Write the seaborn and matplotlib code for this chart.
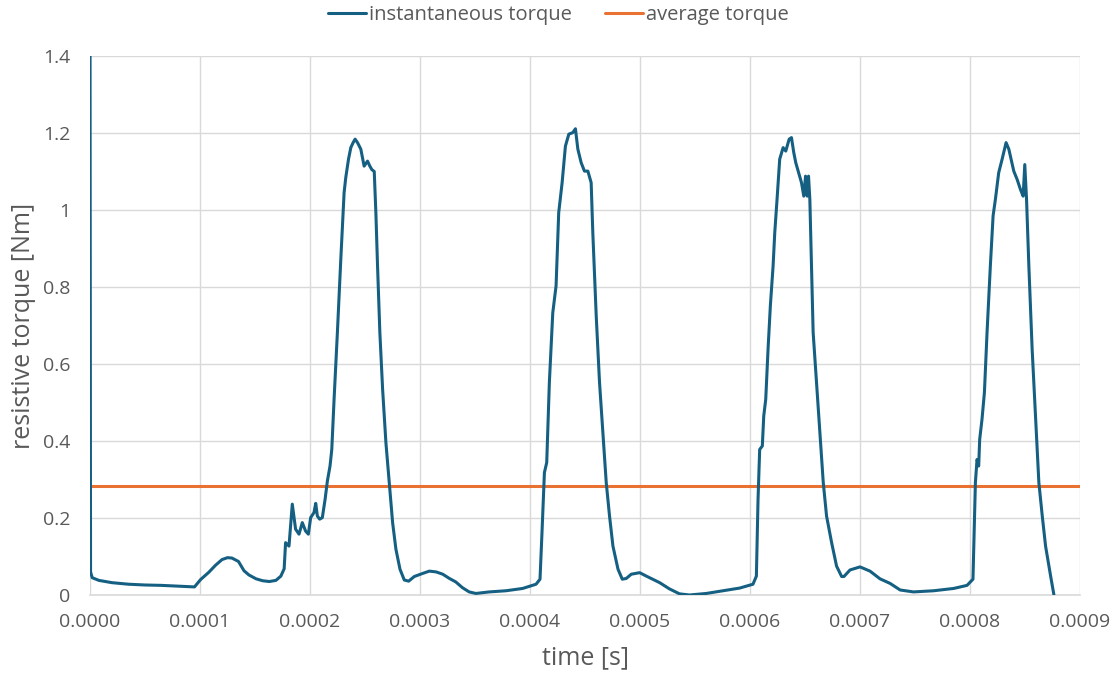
import matplotlib
matplotlib.use("Agg")
import matplotlib.pyplot as plt
from matplotlib.ticker import FixedLocator, FuncFormatter
import seaborn as sns
import pandas as pd

# time samples in units of 1e-4 s
time_e4 = [
    0.0, 0.005, 0.02, 0.08, 0.2, 0.35, 0.5, 0.65, 0.8, 0.95,
    1.005, 1.08, 1.14, 1.2, 1.25, 1.29, 1.35, 1.4, 1.445, 1.51, 1.57, 1.63, 1.69, 1.735, 1.765,
    1.778, 1.809, 1.839, 1.869, 1.9, 1.93, 1.96, 1.985, 2.006, 2.036, 2.052, 2.067, 2.088, 2.112,
    2.137, 2.158, 2.182, 2.198, 2.219, 2.249, 2.28, 2.31, 2.325, 2.35, 2.371, 2.392, 2.41, 2.432,
    2.462, 2.492, 2.523, 2.544, 2.562, 2.584, 2.599, 2.614, 2.635, 2.66, 2.69, 2.72, 2.751, 2.781,
    2.818, 2.857, 2.897, 2.948, 3.024, 3.085, 3.146, 3.207, 3.267, 3.325, 3.386, 3.447, 3.508,
    3.629, 3.781, 3.933, 4.055, 4.091, 4.109, 4.131, 4.152, 4.176, 4.207, 4.237, 4.261, 4.292,
    4.322, 4.353, 4.389, 4.413, 4.435, 4.465, 4.495, 4.526, 4.556, 4.571, 4.602, 4.632, 4.663,
    4.693, 4.723, 4.754, 4.8, 4.839, 4.875, 4.921, 4.997, 5.058, 5.179, 5.267, 5.359, 5.45,
    5.602, 5.754, 5.906, 6.027, 6.058, 6.073, 6.088, 6.112, 6.125, 6.143, 6.164, 6.185, 6.21,
    6.225, 6.246, 6.27, 6.301, 6.325, 6.356, 6.377, 6.398, 6.416, 6.438, 6.468, 6.489, 6.505,
    6.52, 6.532, 6.544, 6.559, 6.574, 6.605, 6.635, 6.666, 6.696, 6.742, 6.787, 6.833, 6.854,
    6.909, 7.0, 7.091, 7.182, 7.274, 7.365, 7.486, 7.669, 7.851, 7.973, 8.027, 8.049, 8.064,
    8.079, 8.088, 8.109, 8.131, 8.155, 8.185, 8.21, 8.231, 8.261, 8.292, 8.328, 8.353, 8.398,
    8.429, 8.459, 8.483, 8.498, 8.514, 8.535, 8.565, 8.596, 8.626, 8.657, 8.687, 8.733, 8.763,
]

# resistive torque in Nm
torque = [
    1.5, 0.06, 0.045, 0.038, 0.032, 0.028, 0.026, 0.025, 0.023, 0.021,
    0.040, 0.059, 0.077, 0.092, 0.097, 0.096, 0.087, 0.063, 0.052, 0.042, 0.037, 0.035, 0.038, 0.049, 0.068,
    0.136, 0.127, 0.236, 0.171, 0.158, 0.188, 0.166, 0.158, 0.201, 0.214, 0.238, 0.205, 0.197, 0.201,
    0.248, 0.296, 0.335, 0.378, 0.509, 0.682, 0.872, 1.045, 1.084, 1.132, 1.162, 1.175, 1.184, 1.175,
    1.158, 1.114, 1.127, 1.114, 1.105, 1.100, 0.992, 0.855, 0.682, 0.535, 0.396, 0.292, 0.188, 0.119,
    0.067, 0.039, 0.036, 0.048, 0.056, 0.062, 0.060, 0.054, 0.043, 0.034, 0.019, 0.008, 0.004,
    0.008, 0.011, 0.017, 0.028, 0.041, 0.162, 0.318, 0.344, 0.552, 0.733, 0.803, 0.993, 1.071,
    1.166, 1.197, 1.201, 1.211, 1.158, 1.123, 1.101, 1.101, 1.071, 0.941, 0.725, 0.552, 0.422,
    0.292, 0.205, 0.127, 0.067, 0.041, 0.043, 0.054, 0.058, 0.049, 0.032, 0.016, 0.003, 0.0,
    0.004, 0.011, 0.018, 0.028, 0.049, 0.248, 0.378, 0.387, 0.465, 0.508, 0.638, 0.751, 0.855,
    0.941, 1.028, 1.132, 1.162, 1.153, 1.184, 1.188, 1.149, 1.123, 1.101, 1.071, 1.036, 1.088,
    1.036, 1.088, 1.028, 0.855, 0.682, 0.552, 0.422, 0.292, 0.205, 0.136, 0.075, 0.048, 0.048,
    0.065, 0.073, 0.062, 0.042, 0.030, 0.013, 0.008, 0.011, 0.017, 0.025, 0.041, 0.292, 0.352,
    0.335, 0.404, 0.456, 0.526, 0.682, 0.855, 0.985, 1.028, 1.097, 1.132, 1.175, 1.158, 1.101,
    1.079, 1.053, 1.036, 1.118, 1.028, 0.855, 0.638, 0.465, 0.292, 0.205, 0.127, 0.049, 0.0,
]

average_torque = 0.283

x_ticks = [0.0000, 0.0001, 0.0002, 0.0003, 0.0004, 0.0005, 0.0006, 0.0007, 0.0008, 0.0009]
y_ticks = [0.0, 0.2, 0.4, 0.6, 0.8, 1.0, 1.2, 1.4]

BLUE = "#156082"
ORANGE = "#E97132"
GRID = "#D9D9D9"
TEXT = "#595959"

sns.set_theme(style="white")
plt.rcParams["font.family"] = ["Open Sans", "DejaVu Sans"]

df = pd.DataFrame({"time": [t * 1e-4 for t in time_e4], "torque": torque})
avg_df = pd.DataFrame({"time": [x_ticks[0], x_ticks[-1]],
                       "torque": [average_torque, average_torque]})

fig = plt.figure(figsize=(11.17, 6.74), dpi=100)
ax = fig.add_axes([90 / 1117, 1 - 595 / 674, 990 / 1117, 539 / 674])

sns.lineplot(data=df, x="time", y="torque", ax=ax, sort=False, estimator=None,
             color=BLUE, linewidth=2.2, label="instantaneous torque", zorder=3)
sns.lineplot(data=avg_df, x="time", y="torque", ax=ax, sort=False, estimator=None,
             color=ORANGE, linewidth=2.2, label="average torque", zorder=2)

ax.set_xlim(x_ticks[0], x_ticks[-1])
ax.set_ylim(y_ticks[0], y_ticks[-1])
ax.xaxis.set_major_locator(FixedLocator(x_ticks))
ax.yaxis.set_major_locator(FixedLocator(y_ticks))
ax.xaxis.set_major_formatter(FuncFormatter(lambda v, p: f"{v:.4f}"))
ax.yaxis.set_major_formatter(FuncFormatter(lambda v, p: f"{v:g}"))

ax.grid(True, color=GRID, linewidth=1.0)
ax.set_axisbelow(True)
for side in ("left", "right", "top"):
    ax.spines[side].set_visible(False)
ax.spines["bottom"].set_color(GRID)
ax.spines["bottom"].set_linewidth(1.2)
ax.tick_params(axis="both", length=0, labelsize=14, labelcolor=TEXT)
ax.tick_params(axis="x", pad=13)
ax.tick_params(axis="y", pad=14)

ax.set_xlabel("time [s]", fontsize=18, color=TEXT, labelpad=10)
ax.set_ylabel("resistive torque [Nm]", fontsize=18, color=TEXT, labelpad=5)

ax.legend(loc="center", bbox_to_anchor=(558.5 / 1117, 1 - 15 / 674),
          bbox_transform=fig.transFigure, ncol=2, frameon=False,
          fontsize=14.5, handlelength=1.9, handletextpad=0.15, columnspacing=1.65,
          labelcolor=TEXT)

fig.savefig("out.png", dpi=100)
